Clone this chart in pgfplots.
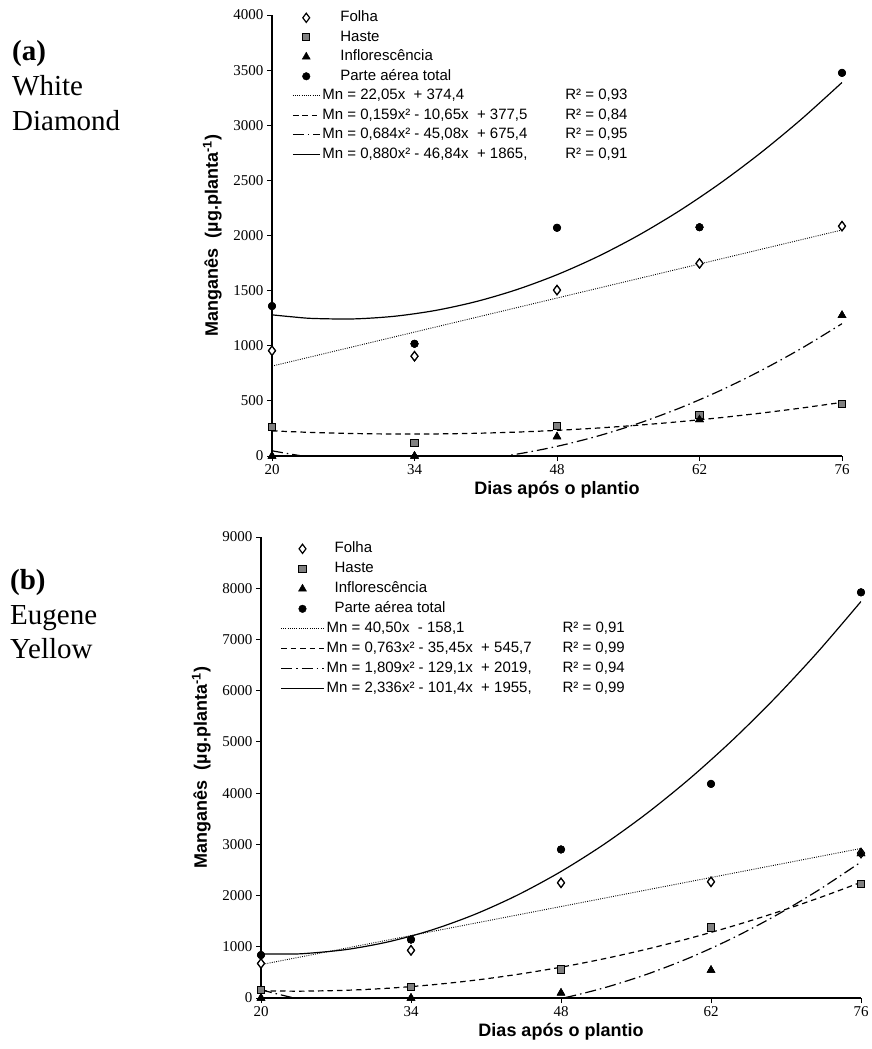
\documentclass[border=0pt]{standalone}
\usepackage{pgfplots}
\pgfplotsset{compat=1.18}
\usepackage{fontspec}
\setmainfont{Liberation Serif}
\newfontfamily\arial{Liberation Sans}
\definecolor{sqgray}{RGB}{128,128,128}

\pgfplotstableread{
x H I T
20 228.1 47.4 1280.2
22 220.4 14.7 1262.1
24 213.5 -12.5 1247.7
28 204.0 -50.6 1243.4
32 199.5 -66.7 1267.2
36 200.2 -61.0 1319.2
40 205.9 -33.4 1399.4
44 216.7 16.1 1507.7
48 232.6 87.5 1644.2
52 253.6 180.8 1808.8
56 279.7 295.9 2001.6
60 310.9 433.0 2222.6
64 347.2 591.9 2471.7
68 388.5 772.8 2749.0
72 435.0 975.5 3054.4
76 486.5 1200.1 3388.0
}\fitA

\pgfplotstableread{
x H I T
20 141.9 160.6 861.4
22 136.0 54.4 858.6
24 134.4 -37.4 866.9
28 151.3 -177.5 947.2
32 192.6 -259.8 1102.3
36 258.4 -284.1 1332.1
40 348.5 -250.6 1636.6
44 463.1 -159.2 2015.9
48 602.1 -9.9 2469.9
52 765.5 197.3 2998.7
56 953.3 462.4 3602.3
60 1165.5 785.4 4280.6
64 1402.2 1166.3 5033.7
68 1663.2 1605.0 5861.5
72 1948.7 2101.7 6764.0
76 2258.6 2656.2 7741.3
}\fitB

\pgfplotsset{
  mnbase/.style={
    scale only axis,
    axis lines=left,
    axis line style={-, line width=1.4pt},
    xmin=20, xmax=76, ymin=0,
    xtick={20,34,48,62,76},
    tick align=outside,
    major tick length=5pt,
    tick style={line width=1pt, black},
    ticklabel style={font=\fontsize{15}{17}\selectfont},
    /pgf/number format/assume math mode=true,
    /pgf/number format/1000 sep={},
    scaled y ticks=false,
    label style={font=\arial\bfseries\fontsize{18}{20}\selectfont},
    xlabel={Dias após o plantio},
    ylabel={Manganês\ \ (µg.planta\textsuperscript{-1})},
    ylabel style={yshift=5pt},
    legend cell align=left,
    legend style={draw=none, fill=none, anchor=north west, inner sep=0pt,
      font=\arial\fontsize{15}{18}\selectfont,
      nodes={inner xsep=2pt, inner ysep=0pt, text height=11pt, text depth=3pt}},
  },
  mF/.style={only marks, mark=diamond*, mark size=4.6pt, mark options={fill=white, draw=black, line width=1.2pt}},
  mH/.style={only marks, mark=square*, mark size=3.6pt, mark options={fill=sqgray, draw=black, line width=0.9pt}},
  mI/.style={only marks, mark=triangle*, mark size=4.6pt, mark options={fill=black, draw=black}},
  mT/.style={only marks, mark=*, mark size=3.8pt, mark options={fill=black, draw=black}},
  lF/.style={black, line width=0.9pt, dash pattern=on 0.9pt off 1.3pt, no marks},
  lH/.style={black, line width=1.2pt, dash pattern=on 5.5pt off 4pt, no marks, smooth},
  lI/.style={black, line width=1.2pt, dash pattern=on 11pt off 4pt on 1.5pt off 4pt, no marks, smooth},
  lT/.style={black, line width=1.2pt, solid, no marks, smooth},
}

\begin{document}
\begin{tikzpicture}[x=1pt,y=1pt]
\useasboundingbox (0,0) rectangle (871,-1049);
\node[anchor=base west, inner sep=0pt, font=\fontsize{29}{35}\selectfont] at (12,-60) {\textbf{(a)}};
\node[anchor=base west, inner sep=0pt, font=\fontsize{29}{35}\selectfont] at (12,-95) {White};
\node[anchor=base west, inner sep=0pt, font=\fontsize{29}{35}\selectfont] at (12,-130) {Diamond};
\node[anchor=base west, inner sep=0pt, font=\fontsize{29}{35}\selectfont] at (10,-589) {\textbf{(b)}};
\node[anchor=base west, inner sep=0pt, font=\fontsize{29}{35}\selectfont] at (10,-624) {Eugene};
\node[anchor=base west, inner sep=0pt, font=\fontsize{29}{35}\selectfont] at (10,-658) {Yellow};

\begin{axis}[mnbase,
  at={(272pt,-456pt)}, anchor=south west,
  width=570pt, height=441pt,
  ymax=4000, ytick={0,500,...,4000},
  legend style={at={(0.035,1.01)}, row sep=5.5pt},
  legend image code/.code={\draw[mark repeat=2,mark phase=2,#1] plot coordinates {(0pt,0pt) (13.5pt,0pt) (27pt,0pt)};},
]
\addplot[mF] coordinates {(20,955) (34,905) (48,1505) (62,1747) (76,2085)};
\addlegendentry{\hspace{18pt}Folha}
\addplot[mH] coordinates {(20,262) (34,120) (48,271) (62,370) (76,470)};
\addlegendentry{\hspace{18pt}Haste}
\addplot[mI] coordinates {(20,0) (34,0) (48,175) (62,331) (76,1276)};
\addlegendentry{\hspace{18pt}Inflorescência}
\addplot[mT] coordinates {(20,1360) (34,1018) (48,2070) (62,2075) (76,3475)};
\addlegendentry{\hspace{18pt}Parte aérea total}
\addplot[lF] coordinates {(20,815.4) (76,2050.2)};
\addlegendentry{\makebox[243pt][l]{Mn = 22,05x\ \ + 374,4}R² = 0,93}
\addplot[lH] table[x=x,y=H] {\fitA};
\addlegendentry{\makebox[243pt][l]{Mn = 0,159x² - 10,65x\ \ + 377,5}R² = 0,84}
\addplot[lI] table[x=x,y=I] {\fitA};
\addlegendentry{\makebox[243pt][l]{Mn = 0,684x² - 45,08x\ \ + 675,4}R² = 0,95}
\addplot[lT] table[x=x,y=T] {\fitA};
\addlegendentry{\makebox[243pt][l]{Mn = 0,880x² - 46,84x\ \ + 1865,}R² = 0,91}
\addplot[mF, forget plot] coordinates {(20,955) (34,905) (48,1505) (62,1747) (76,2085)};
\addplot[mH, forget plot] coordinates {(20,262) (34,120) (48,271) (62,370) (76,470)};
\addplot[mI, forget plot] coordinates {(20,0) (34,0) (48,175) (62,331) (76,1276)};
\addplot[mT, forget plot] coordinates {(20,1360) (34,1018) (48,2070) (62,2075) (76,3475)};
\end{axis}

\begin{axis}[mnbase,
  at={(261pt,-998pt)}, anchor=south west,
  width=600pt, height=461pt,
  ymax=9000, ytick={0,1000,...,9000},
  legend style={at={(0.032,0.99)}, row sep=6pt},
  legend image code/.code={\draw[mark repeat=2,mark phase=2,#1] plot coordinates {(0pt,0pt) (21.5pt,0pt) (43pt,0pt)};},
]
\addplot[mF] coordinates {(20,675) (34,931) (48,2249) (62,2269) (76,2830)};
\addlegendentry{\hspace{8pt}Folha}
\addplot[mH] coordinates {(20,164) (34,210) (48,557) (62,1377) (76,2220)};
\addlegendentry{\hspace{8pt}Haste}
\addplot[mI] coordinates {(20,0) (34,0) (48,98) (62,544) (76,2820)};
\addlegendentry{\hspace{8pt}Inflorescência}
\addplot[mT] coordinates {(20,839) (34,1141) (48,2900) (62,4180) (76,7920)};
\addlegendentry{\hspace{8pt}Parte aérea total}
\addplot[lF] coordinates {(20,651.9) (76,2919.9)};
\addlegendentry{\makebox[236pt][l]{Mn = 40,50x\ \ - 158,1}R² = 0,91}
\addplot[lH] table[x=x,y=H] {\fitB};
\addlegendentry{\makebox[236pt][l]{Mn = 0,763x² - 35,45x\ \ + 545,7}R² = 0,99}
\addplot[lI] table[x=x,y=I] {\fitB};
\addlegendentry{\makebox[236pt][l]{Mn = 1,809x² - 129,1x\ \ + 2019,}R² = 0,94}
\addplot[lT] table[x=x,y=T] {\fitB};
\addlegendentry{\makebox[236pt][l]{Mn = 2,336x² - 101,4x\ \ + 1955,}R² = 0,99}
\addplot[mF, forget plot] coordinates {(20,675) (34,931) (48,2249) (62,2269) (76,2830)};
\addplot[mH, forget plot] coordinates {(20,164) (34,210) (48,557) (62,1377) (76,2220)};
\addplot[mI, forget plot] coordinates {(20,0) (34,0) (48,98) (62,544) (76,2820)};
\addplot[mT, forget plot] coordinates {(20,839) (34,1141) (48,2900) (62,4180) (76,7920)};
\end{axis}
\end{tikzpicture}
\end{document}
